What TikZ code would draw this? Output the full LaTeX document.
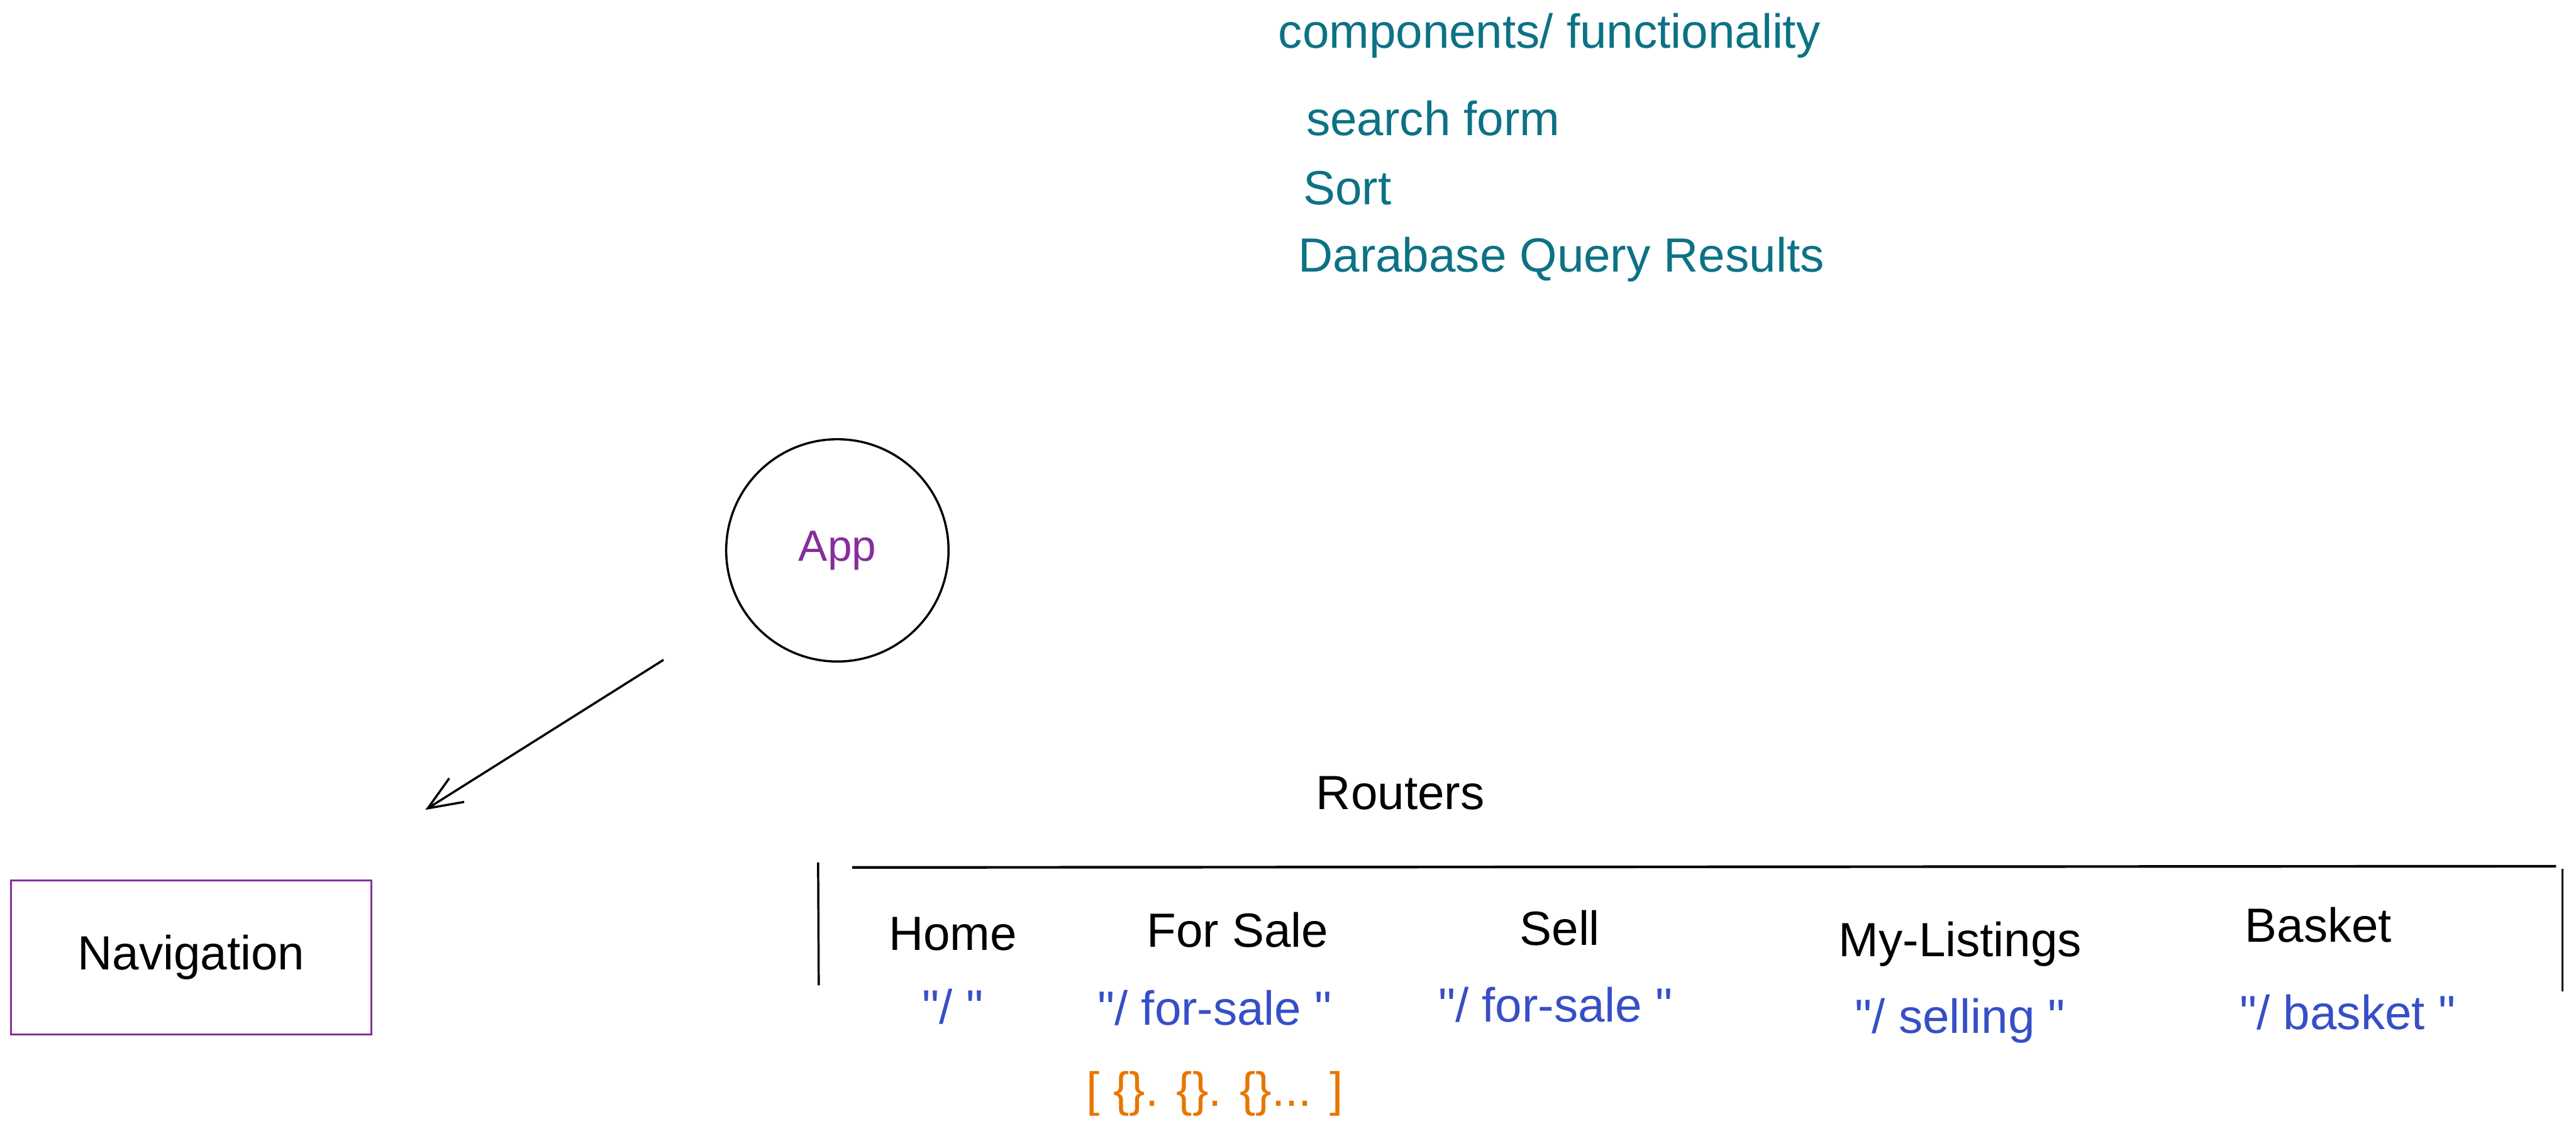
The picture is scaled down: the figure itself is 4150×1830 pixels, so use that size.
\documentclass[tikz,border=0pt]{standalone}
\usepackage{fontspec}
\setmainfont{Liberation Sans}[Ligatures=TeXOff]
\usetikzlibrary{positioning,arrows.meta}
\definecolor{noteteal}{RGB}{12,114,133}
\definecolor{apppurple}{RGB}{134,46,156}
\definecolor{routeblue}{RGB}{54,79,199}
\definecolor{dataorange}{RGB}{230,119,0}

\begin{document}
\begin{tikzpicture}[
    x=0.01cm, y=-0.01cm,
    txt/.style={font=\fontsize{22}{26}\selectfont, inner sep=0pt, text height=0.55cm, text depth=0.15cm},
    note/.style={txt, text=noteteal, anchor=west},
    router/.style={txt, text=black},
    route/.style={txt, text=routeblue},
    appnode/.style={circle, draw, line width=1pt, minimum size=3.58cm, font=\fontsize{20}{24}\selectfont, text=apppurple},
    navbox/.style={rectangle, draw=apppurple, line width=1pt, minimum width=5.8cm, minimum height=2.48cm, font=\fontsize{22}{26}\selectfont},
    arrow/.style={-{Straight Barb[length=0.55cm, width=0.45cm]}, line width=1pt}
  ]
    \useasboundingbox (0,0) rectangle (4150,1830);

    % components list
    \node[note] (title) at (2059,58) {components/ functionality};
    \node[note] (search) at (2104,198) {search form};
    \node[note] (sort) at (2099,310) {Sort};
    \node[note] (query) at (2091,418) {Darabase Query Results};

    \node[appnode] (app) at (1349,887) {App};
    \node[navbox] (nav) at (308,1543) {Navigation};

    \draw[arrow, shorten <=1.5cm, shorten >=2.1cm] (app) -- (nav);

    % routers
    \node[router] (routers) at (2256,1284) {Routers};
    \draw[line width=1.2pt] (1373,1398) -- (4118,1396);
    \draw[line width=1pt] (1318,1390) -- (1319,1588);
    \draw[line width=1pt] (4128,1400) -- (4128,1598);

    \node[router] (home) at (1535,1511) {Home};
    \node[router] (forsale) at (1994,1506) {For Sale};
    \node[router] (sell) at (2513,1503) {Sell};
    \node[router] (listings) at (3158,1522) {My-Listings};
    \node[router] (basket) at (3735,1498) {Basket};

    \node[route, below=0.47cm of home] (homepath) {"/ "};
    \node[route, below=0.54cm of forsale, xshift=-0.37cm] (forsalepath) {"/ for-sale "};
    \node[route, below=0.52cm of sell, xshift=-0.07cm] (sellpath) {"/ for-sale "};
    \node[route, below=0.52cm of listings] (listingspath) {"/ selling "};
    \node[route, below=0.7cm of basket, xshift=0.47cm] (basketpath) {"/ basket "};

    \node[txt, text=dataorange, below=0.6cm of forsalepath] (items) {[ \{\}. \{\}. \{\}... ]};
  \end{tikzpicture}
\end{document}
